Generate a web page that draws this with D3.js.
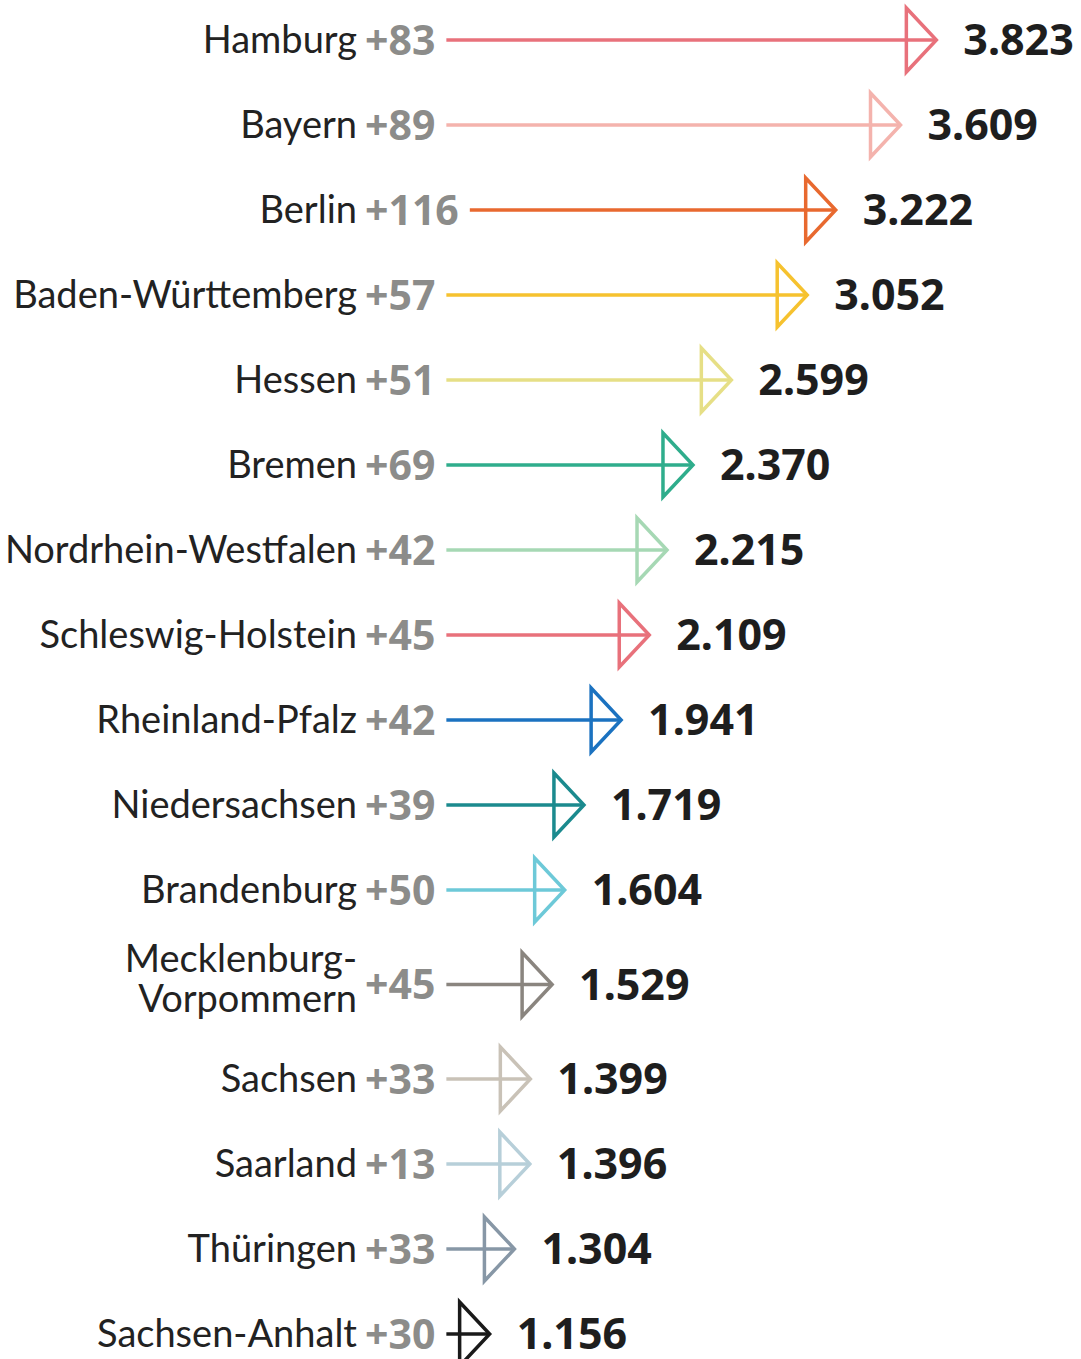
<!DOCTYPE html>
<html>
<head>
<meta charset="utf-8">
<script src="https://cdn.jsdelivr.net/npm/d3@7"></script>
<style>
  body { margin: 0; background: #fff; }
  svg text { font-family: "Source Sans Pro", Lato, "Noto Sans", sans-serif; }
  svg text.num { font-family: "Noto Sans", "Open Sans", sans-serif; }
</style>
</head>
<body>
<svg id="chart" width="1081" height="1359"></svg>
<script>
// --------------- Data ---------------
const states = [
  "Hamburg", "Bayern", "Berlin", "Baden-Württemberg", "Hessen", "Bremen",
  "Nordrhein-Westfalen", "Schleswig-Holstein", "Rheinland-Pfalz", "Niedersachsen",
  "Brandenburg", "Mecklenburg-\nVorpommern", "Sachsen", "Saarland", "Thüringen",
  "Sachsen-Anhalt"
];
const deltas = [83, 89, 116, 57, 51, 69, 42, 45, 42, 39, 50, 45, 33, 13, 33, 30];
const values = [3823, 3609, 3222, 3052, 2599, 2370, 2215, 2109, 1941, 1719, 1604, 1529, 1399, 1396, 1304, 1156];
const colors = [
  "#e8717b", "#f4b3ad", "#e8692f", "#f6c22f", "#e6df86", "#2fad8c",
  "#a6d8b4", "#e8717b", "#1b72c0", "#1b8a8e", "#6dc9d8", "#8a857f",
  "#c9c2b7", "#b7cfd9", "#8797a6", "#1a1a1a"
];

// --------------- Constants ---------------
const NAME_RIGHT = 357;
const DELTA_LEFT = 365;
const LINE_GAP = 11;
const HEAD_W = 30;
const HEAD_H = 32;
const STROKE = 3.5;

const rows = states.map((s, i) => ({
  name: s.split("\n"),
  delta: deltas[i],
  value: values[i],
  color: colors[i],
}));

// vertical centers: taller row for two-line names
let yc = 40;
rows.forEach((d, i) => {
  if (i > 0) yc += 85 + 9.5 * (rows[i - 1].name.length - 1) + 9.5 * (d.name.length - 1);
  d.y = yc;
});

const x = d3.scaleLinear().domain([0, 4000]).range([296, 966]);
const fmt = (v) => d3.format(",")(v).replace(/,/g, ".");

const svg = d3.select("#chart");

const row = svg.selectAll("g.row")
  .data(rows)
  .enter()
  .append("g")
  .attr("class", "row")
  .attr("transform", (d) => `translate(0,${d.y})`);

// state name (right aligned)
row.append("text")
  .attr("x", NAME_RIGHT)
  .attr("text-anchor", "end")
  .attr("font-size", 38)
  .attr("fill", "#222")
  .each(function (d) {
    const n = d.name.length;
    d3.select(this).selectAll("tspan")
      .data(d.name)
      .enter()
      .append("tspan")
      .attr("x", NAME_RIGHT)
      .attr("y", (_l, j) => (j - (n - 1) / 2) * 40 - (n > 1 ? 6 : 0))
      .attr("dy", "0.35em")
      .text((l) => l);
  });

// change
const deltaText = row.append("text")
  .attr("class", "num")
  .attr("x", DELTA_LEFT)
  .attr("dy", "0.36em")
  .attr("font-size", 41)
  .attr("font-weight", 700)
  .attr("fill", "#8c8c8a")
  .text((d) => `+${d.delta}`);

deltaText.each(function (d) {
  d.lineStart = DELTA_LEFT + this.getComputedTextLength() + LINE_GAP;
});

// shaft
row.append("line")
  .attr("x1", (d) => d.lineStart)
  .attr("x2", (d) => x(d.value))
  .attr("y1", 0)
  .attr("y2", 0)
  .attr("stroke", (d) => d.color)
  .attr("stroke-width", STROKE);

// open arrow head
row.append("path")
  .attr("d", (d) => {
    const t = x(d.value);
    return `M${t - HEAD_W},${-HEAD_H} L${t},0 L${t - HEAD_W},${HEAD_H} Z`;
  })
  .attr("fill", "none")
  .attr("stroke", (d) => d.color)
  .attr("stroke-width", STROKE)
  .attr("stroke-linejoin", "miter");

// value label
row.append("text")
  .attr("class", "num")
  .attr("x", (d) => x(d.value) + 27)
  .attr("dy", "0.36em")
  .attr("font-size", 43)
  .attr("font-weight", 700)
  .attr("fill", "#1e1e1e")
  .text((d) => fmt(d.value));
</script>
</body>
</html>
